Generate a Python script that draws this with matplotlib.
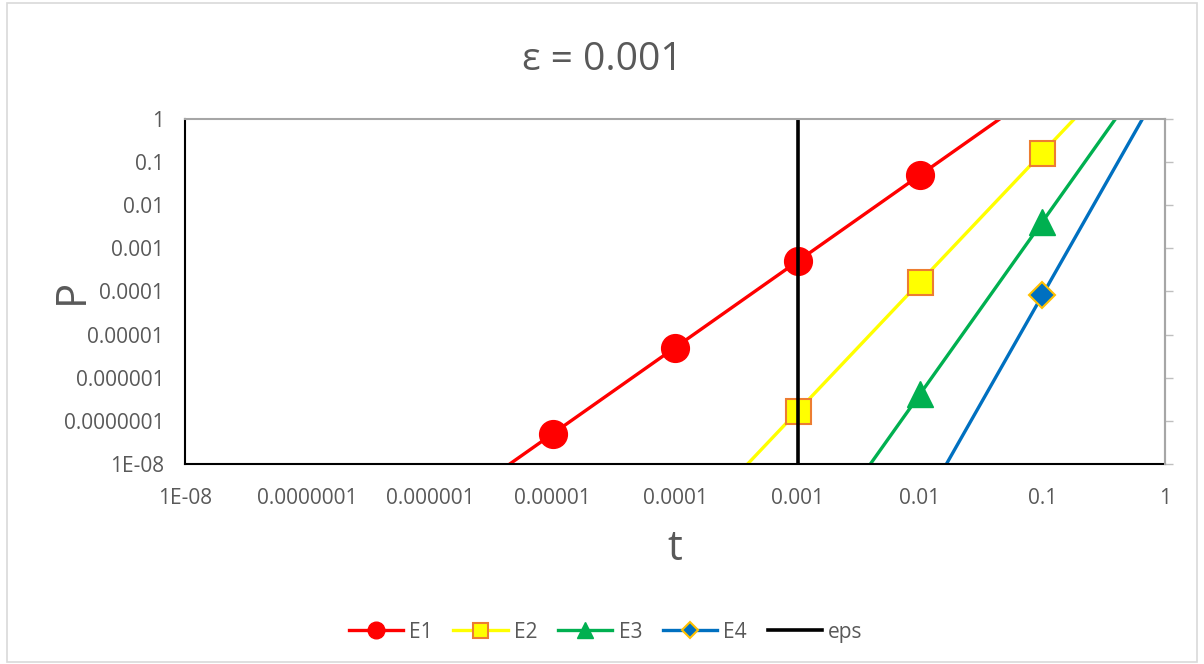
import matplotlib.pyplot as plt
from matplotlib.patches import Rectangle

plt.rcParams['font.family'] = ['Open Sans', 'DejaVu Sans']

# series values (log-log)
t_e1 = [1e-6, 1e-5, 1e-4, 1e-3, 1e-2, 1e-1]
p_e1 = [5e-10, 5e-8, 5e-6, 5e-4, 5e-2, 5]
t_e2 = [1e-4, 1e-3, 1e-2, 1e-1, 1]
p_e2 = [1.667e-10, 1.667e-7, 1.667e-4, 0.1667, 166.7]
t_e3 = [1e-3, 1e-2, 1e-1, 1]
p_e3 = [4.167e-11, 4.167e-7, 4.167e-3, 41.67]
t_e4 = [1e-2, 1e-1, 1]
p_e4 = [8.333e-10, 8.333e-5, 8.333]
t_eps = [0.001, 0.001]
p_eps = [1e-8, 1]

decades = [1e-8, 1e-7, 1e-6, 1e-5, 1e-4, 1e-3, 1e-2, 1e-1, 1]
decade_labels = ['1E-08', '0.0000001', '0.000001', '0.00001', '0.0001',
                 '0.001', '0.01', '0.1', '1']

grey = '#595959'

fig = plt.figure(figsize=(12.04, 6.64), dpi=100)
fig.patches.append(Rectangle((0.006, 0.003), 0.988, 0.992, transform=fig.transFigure,
                             fill=False, edgecolor='#d9d9d9', lw=1.2))
ax = fig.add_axes([0.1537, 0.3012, 0.8139, 0.5196])

ax.plot(t_e1, p_e1, color='#ff0000', lw=2.4, marker='o', ms=20, label='E1')
ax.plot(t_e2, p_e2, color='#ffff00', lw=2.4, marker='s', ms=18, mfc='#ffff00',
        mec='#ed7d31', mew=1.5, label='E2')
ax.plot(t_e3, p_e3, color='#00b050', lw=2.4, marker='^', ms=19, label='E3')
ax.plot(t_e4, p_e4, color='#0070c0', lw=2.4, marker='D', ms=13, mfc='#0070c0',
        mec='#ffc000', mew=1.5, label='E4')
ax.plot(t_eps, p_eps, color='black', lw=2.6, label='eps')

ax.set_xscale('log')
ax.set_yscale('log')
ax.set_xlim(1e-8, 1)
ax.set_ylim(1e-8, 1)
ax.set_xticks(decades)
ax.set_xticklabels(decade_labels)
ax.set_yticks(decades)
ax.set_yticklabels(decade_labels)
ax.minorticks_off()
ax.tick_params(length=0, labelsize=15, labelcolor=grey)
ax.tick_params(axis='x', pad=17)
ax.tick_params(axis='y', pad=15)

for side in ['left', 'bottom']:
    ax.spines[side].set_color('black')
    ax.spines[side].set_linewidth(1.5)
for side in ['top', 'right']:
    ax.spines[side].set_color('#a6a6a6')
    ax.spines[side].set_linewidth(1.5)

# secondary axis: grey outward ticks on the right edge, no labels
ax2 = ax.twinx()
ax2.set_yscale('log')
ax2.set_ylim(1e-8, 1)
ax2.set_yticks(decades)
ax2.set_yticklabels([])
ax2.minorticks_off()
ax2.tick_params(axis='y', length=6, width=1, color='#bfbfbf')
for side in ['left', 'bottom', 'top']:
    ax2.spines[side].set_visible(False)
ax2.spines['right'].set_color('#a6a6a6')
ax2.spines['right'].set_linewidth(1.5)

fig.text(0.5, 0.91, 'ε = 0.001', fontsize=28, color=grey, ha='center', va='center')
ax.set_xlabel('t', fontsize=30, color=grey, labelpad=14)
ax.set_ylabel('P', fontsize=30, color=grey)
ax.yaxis.set_label_coords(-0.094, 0.5)

handles, labels = ax.get_legend_handles_labels()
leg = fig.legend(handles, labels, loc='center', bbox_to_anchor=(0.503, 0.048), ncol=5,
                 frameon=False, fontsize=15, handlelength=2.6, columnspacing=1.0,
                 handletextpad=0.3, markerscale=0.6)
for txt in leg.get_texts():
    txt.set_color(grey)

fig.savefig('out.png', dpi=100)
